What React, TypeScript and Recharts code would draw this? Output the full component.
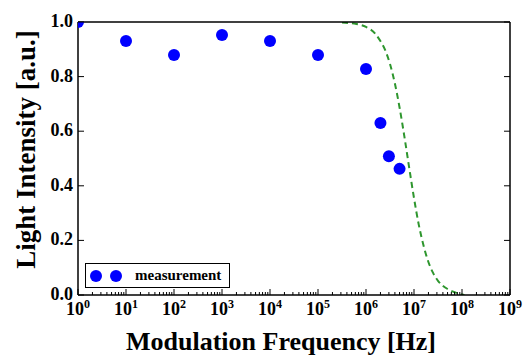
import React from 'react';
import { ComposedChart, Scatter, Line, XAxis, YAxis, Legend, Label } from 'recharts';

// measurement points
const measFreq = [1, 10, 100, 1e3, 1e4, 1e5, 1e6, 2e6, 3e6, 5e6];
const measValue = [1.0, 0.93, 0.879, 0.952, 0.93, 0.879, 0.828, 0.63, 0.508, 0.462];

// dashed model curve (log10 of frequency, intensity)
const curveLogF = [5.5, 5.8, 6.0, 6.2, 6.3, 6.4, 6.5, 6.6, 6.7, 6.8, 6.9, 7.0, 7.1, 7.2, 7.3, 7.4, 7.5, 7.6, 7.7, 7.8, 7.9, 8.0, 8.05];
const curveValue = [0.998, 0.993, 0.982, 0.956, 0.93, 0.897, 0.846, 0.776, 0.686, 0.58, 0.466, 0.355, 0.257, 0.18, 0.121, 0.08, 0.052, 0.034, 0.022, 0.013, 0.007, 0.002, 0.0];

// axis ticks
const decadeExps = [0, 1, 2, 3, 4, 5, 6, 7, 8, 9];
const minorMult = [2, 3, 4, 5, 6, 7, 8, 9];
const yTicks = [0, 0.2, 0.4, 0.6, 0.8, 1.0];

const measData = measFreq.map((f, i) => ({ f, v: measValue[i] }));
const curveData = curveLogF.map((e, i) => ({ f: Math.pow(10, e), v: curveValue[i] }));
const majorTicks = decadeExps.map((e) => Math.pow(10, e));
const xTicks: number[] = [];
decadeExps.forEach((e) => {
  xTicks.push(Math.pow(10, e));
  if (e < 9) minorMult.forEach((m) => xTicks.push(m * Math.pow(10, e)));
});

const FONT = "'Liberation Serif', 'Times New Roman', serif";

const isMajor = (v: number) => majorTicks.some((t) => Math.abs(t - v) < 1e-6 * t);

const BottomTick = (props: any) => {
  const { x, y, payload } = props;
  const v = payload.value;
  const major = isMajor(v);
  const exp = Math.round(Math.log10(v));
  return (
    <g>
      <line x1={x} x2={x} y1={y} y2={y - (major ? 6 : 3)} stroke="#000" strokeWidth={1} />
      {major && (
        <text x={x} y={y + 20} textAnchor="middle" fontFamily={FONT} fontWeight="bold" fontSize={18} fill="#000">
          10<tspan dy={-7} fontSize={12}>{exp}</tspan>
        </text>
      )}
    </g>
  );
};

const TopTick = (props: any) => {
  const { x, y, payload } = props;
  const major = isMajor(payload.value);
  return <line x1={x} x2={x} y1={y} y2={y + (major ? 6 : 3)} stroke="#000" strokeWidth={1} />;
};

const LeftTick = (props: any) => {
  const { x, y, payload } = props;
  return (
    <g>
      <line x1={x} x2={x + 6} y1={y} y2={y} stroke="#000" strokeWidth={1} />
      <text x={x - 5} y={y + 5} textAnchor="end" fontFamily={FONT} fontWeight="bold" fontSize={18} fill="#000">
        {Number(payload.value).toFixed(1)}
      </text>
    </g>
  );
};

const RightTick = (props: any) => {
  const { x, y } = props;
  return <line x1={x} x2={x - 6} y1={y} y2={y} stroke="#000" strokeWidth={1} />;
};

const renderLegend = () => (
  <div
    style={{
      width: 145,
      height: 25,
      boxSizing: 'border-box',
      border: '1.5px solid #000',
      background: '#fff',
      display: 'flex',
      alignItems: 'center',
    }}
  >
    <svg width={46} height={22} style={{ display: 'block' }}>
      <circle cx={10} cy={11} r={6} fill="#0000ff" />
      <circle cx={30} cy={11} r={6} fill="#0000ff" />
    </svg>
    <span style={{ fontFamily: FONT, fontWeight: 'bold', fontSize: 15, color: '#000', marginLeft: 3 }}>measurement</span>
  </div>
);

export default function App() {
  return (
    <div style={{ position: 'absolute', left: 0, top: 0, background: '#fff' }}>
      <ComposedChart width={524} height={358} margin={{ top: 21, right: 13, bottom: 62, left: 77 }}>
        <XAxis
          xAxisId="b"
          dataKey="f"
          type="number"
          scale="log"
          domain={[1, 1e9]}
          allowDataOverflow
          ticks={xTicks}
          interval={0}
          height={1}
          tickSize={0}
          tickMargin={0}
          tick={<BottomTick />}
          tickLine={false}
          axisLine={{ stroke: '#000', strokeWidth: 1.5 }}
        >
          <Label
            content={(p: any) => {
              const vb = p.viewBox || { x: 78, y: 295, width: 432 };
              return (
                <text x={vb.x + vb.width / 2 - 13} y={vb.y + 55} textAnchor="middle" fontFamily={FONT} fontWeight="bold" fontSize={26} fill="#000">
                  Modulation Frequency [Hz]
                </text>
              );
            }}
          />
        </XAxis>
        <XAxis
          xAxisId="t"
          orientation="top"
          type="number"
          scale="log"
          domain={[1, 1e9]}
          allowDataOverflow
          ticks={xTicks}
          interval={0}
          height={1}
          tickSize={0}
          tickMargin={0}
          tick={<TopTick />}
          tickLine={false}
          axisLine={{ stroke: '#000', strokeWidth: 1.5 }}
        />
        <YAxis
          yAxisId="l"
          dataKey="v"
          type="number"
          domain={[0, 1]}
          allowDataOverflow
          ticks={yTicks}
          interval={0}
          width={1}
          tickSize={0}
          tickMargin={0}
          tick={<LeftTick />}
          tickLine={false}
          axisLine={{ stroke: '#000', strokeWidth: 1.5 }}
        >
          <Label
            content={(p: any) => {
              const vb = p.viewBox || { x: 78, y: 22, height: 273 };
              const cx = 35;
              const cy = vb.y + vb.height / 2 - 9;
              return (
                <text x={cx} y={cy} transform={`rotate(-90, ${cx}, ${cy})`} textAnchor="middle" fontFamily={FONT} fontWeight="bold" fontSize={27} fill="#000">
                  Light Intensity [a.u.]
                </text>
              );
            }}
          />
        </YAxis>
        <YAxis
          yAxisId="r"
          orientation="right"
          type="number"
          domain={[0, 1]}
          allowDataOverflow
          ticks={yTicks}
          interval={0}
          width={1}
          tickSize={0}
          tickMargin={0}
          tick={<RightTick />}
          tickLine={false}
          axisLine={{ stroke: '#000', strokeWidth: 1.5 }}
        />
        <Line
          xAxisId="b"
          yAxisId="l"
          data={curveData}
          dataKey="v"
          type="monotone"
          stroke="#2e962e"
          strokeWidth={2}
          strokeDasharray="6 4"
          dot={false}
          activeDot={false}
          isAnimationActive={false}
          name="model"
          legendType="none"
        />
        <Scatter
          xAxisId="b"
          yAxisId="l"
          data={measData}
          dataKey="v"
          fill="#0000ff"
          isAnimationActive={false}
          name="measurement"
          shape={(p: any) => <circle cx={p.cx} cy={p.cy} r={6} fill="#0000ff" />}
        />
        <Legend
          layout="horizontal"
          verticalAlign="middle"
          align="center"
          content={renderLegend}
          wrapperStyle={{ left: 85, top: 263, width: 145, height: 25 }}
        />
      </ComposedChart>
    </div>
  );
}
